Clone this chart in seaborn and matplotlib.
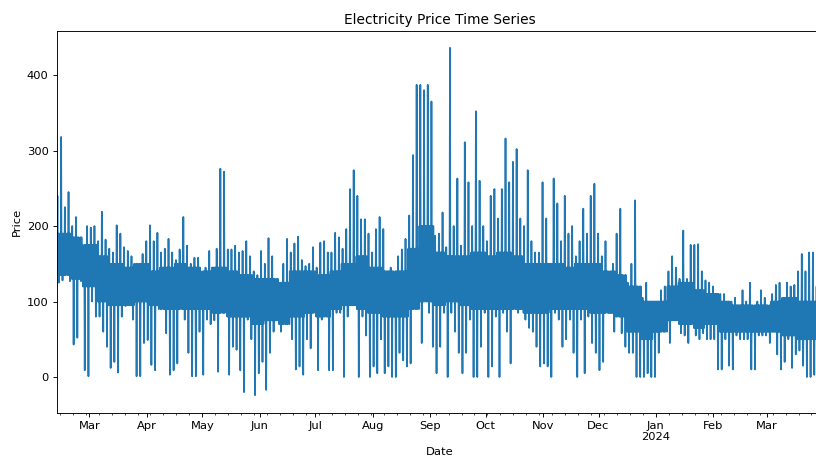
import numpy as np
import pandas as pd
import matplotlib
matplotlib.use("Agg")
import matplotlib.pyplot as plt
import matplotlib.dates as mdates
from matplotlib.ticker import FuncFormatter
import seaborn as sns

# Values: for each 2-day period, the highest and lowest price
start_date = "2023-02-11 06:00"
high = [
    # mid Feb - mid Apr 2023
    240, 318, 225, 245, 200, 212, 180, 160, 200, 198, 200, 180, 219, 182, 170, 165, 201,
    190, 172, 167, 160, 147, 140, 163, 180, 201, 180, 191, 165, 170, 183, 165, 155,
    # mid Apr - late Jun
    169, 212, 174, 150, 158, 158, 130, 145, 167, 145, 170, 276, 272, 169, 169, 174, 165, 167,
    180, 160, 140, 135, 167, 150, 184, 160, 120, 115, 150, 183, 165, 177, 186, 155, 147,
    # late Jun - early Sep
    150, 172, 145, 178, 180, 165, 165, 191, 185, 170, 196, 249, 274, 240, 209, 209, 190, 165,
    196, 212, 196, 140, 145, 135, 160, 169, 183, 214, 294, 387, 387, 380, 387, 365, 187,
    # early Sep - mid Nov
    190, 218, 172, 436, 200, 263, 174, 311, 258, 200, 352, 260, 200, 180, 240, 249, 210, 249,
    316, 258, 285, 302, 210, 200, 274, 180, 165, 165, 258, 210, 150, 263, 230, 180, 240,
    # mid Nov - late Jan 2024
    190, 200, 160, 180, 223, 190, 240, 256, 190, 160, 180, 135, 150, 190, 223, 125, 125, 150,
    234, 100, 105, 125, 100, 100, 100, 115, 120, 140, 160, 145, 130, 194, 130, 175, 175,
    # late Jan - end Mar 2024
    176, 140, 128, 125, 120, 110, 110, 110, 100, 100, 105, 95, 115, 100, 125, 90, 100,
    115, 105, 90, 110, 122, 125, 105, 125, 120, 122, 140, 163, 140, 165, 165, 120, 110,
]
low = [
    125, 128, 138, 127, 43, 52, 127, 9, 1, 100, 80, 80, 60, 40, 12, 20, 6,
    80, 94, 107, 76, 1, 1, 45, 49, 16, 9, 90, 95, 58, 3, 9, 18,
    95, 76, 32, 1, 1, 60, 3, 76, 70, 75, 7, 89, 100, 3, 40, 36, 9, -20,
    76, 50, -24, 5, 20, -17, 32, 60, 76, 60, 80, 85, 50, 10, 14, 3, 50,
    38, 95, 9, 76, 85, 9, 9, 85, 85, 0, 80, 95, 95, 0, 80, 55, 0, 14,
    5, 50, 5, 14, 0, 0, 32, 22, 14, 18, 95, 95, 45, 107, 85, 40, 5,
    40, 85, 0, 85, 60, 32, 5, 32, 76, 0, 0, 40, 85, 0, 14, 80, 0, 85,
    60, 18, 95, 85, 90, 76, 65, 60, 40, 14, 18, 14, 0, 85, 76, 40, 50,
    76, 32, 0, 76, 5, 80, 45, 32, 9, 20, 94, 85, 60, 85, 58, 40, 32, 32,
    0, 0, 0, 5, 0, 0, 32, 76, 80, 45, 94, 76, 58, 55, 45, 75, 55,
    50, 58, 50, 50, 50, 10, 10, 50, 15, 10, 55, 50, 50, 50, 10, 10, 55,
    55, 55, 45, 60, 30, 10, 20, 50, 12, 30, 35, 15, 0, 0, 3, 20, 40,
]
# Dense (typical) price band per week
core_top = [
    190, 185, 175, 160, 150, 145, 150, 140, 145, 150,
    145, 140, 145, 140, 135, 130, 130, 125, 140, 140,
    135, 140, 150, 160, 145, 140, 140, 170, 200, 165,
    160, 160, 165, 160, 165, 160, 150, 150, 150, 145,
    150, 150, 140, 135, 120, 100, 100, 120, 125, 115,
    110, 100, 95, 95, 95, 100, 105, 100, 100, 100,
]
core_bottom = [
    135, 130, 120, 100, 95, 95, 100, 95, 90, 90,
    90, 90, 85, 80, 80, 70, 75, 70, 80, 85,
    80, 90, 95, 90, 85, 80, 80, 90, 100, 95,
    100, 95, 90, 90, 90, 90, 85, 85, 90, 90,
    90, 85, 85, 80, 60, 50, 60, 75, 70, 65,
    70, 60, 60, 60, 60, 60, 55, 50, 50, 55,
]

week_idx = [(2 * k) // 7 for k in range(len(high))]
ch = np.array(core_top)[week_idx]
cl = np.array(core_bottom)[week_idx]
prices = np.column_stack([ch, cl, high, cl, ch, low, ch, cl]).ravel()
dates = pd.date_range(start_date, periods=len(prices), freq="6h")
df = pd.DataFrame({"Date": dates, "Price": prices})

DPI = 82.6
fig = plt.figure(figsize=(816 / DPI, 459 / DPI), dpi=DPI)
ax = fig.add_axes([56.5 / 816, (459 - 412.5) / 459, 766.1 / 816, 382 / 459])
sns.lineplot(data=df, x="Date", y="Price", ax=ax, color="#1f77b4",
             linewidth=1.5, estimator=None)
ax.set_xlim(dates[0], dates[-1])

ax.xaxis.set_major_locator(mdates.MonthLocator())
ax.xaxis.set_minor_locator(mdates.WeekdayLocator(byweekday=mdates.MO))


def fmt(x, pos):
    d = mdates.num2date(x)
    return d.strftime("%b\n%Y") if d.month == 1 else d.strftime("%b")


ax.xaxis.set_major_formatter(FuncFormatter(fmt))
ax.set_title("Electricity Price Time Series")
ax.set_xlabel("Date")
ax.set_ylabel("Price")

fig.savefig("out.png", dpi=DPI)
